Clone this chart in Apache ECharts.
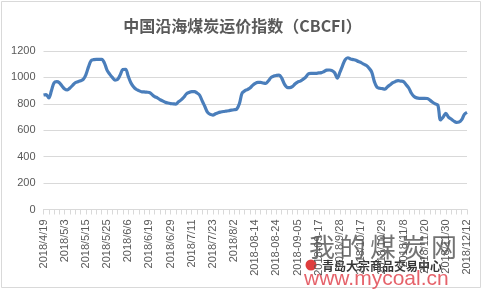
<!DOCTYPE html>
<html><head><meta charset="utf-8">
<script src="https://cdn.jsdelivr.net/npm/echarts@6/dist/echarts.min.js"></script>
<style>html,body{margin:0;padding:0;background:#fff}#c{width:485px;height:299px}</style>
</head><body><div id="c"></div>
<script>
const titleText = '中国沿海煤炭运价指数（CBCFI）';
const tickLabels = ['2018/4/19','2018/5/3','2018/5/15','2018/5/25','2018/6/6','2018/6/19','2018/6/29','2018/7/11','2018/7/23','2018/8/2','2018-08-14','2018-08-24','2018-09-05','2018-09-17','2018/9/28','2018/10/17','2018/10/29','2018/11/8','2018/11/20','2018/11/30','2018/12/12'];
const pointsPerLabel = 8;
const values = [
 867,870,845,900,960,968,960,935,912,905,
 920,940,960,968,975,985,1020,1080,1127,1135,
 1137,1137,1137,1110,1055,1025,1000,980,985,1020,
 1060,1062,1010,960,930,910,900,892,890,888,
 886,870,855,845,832,822,812,806,802,800,
 798,815,830,850,875,886,892,892,882,865,
 820,778,735,720,715,725,733,738,742,745,
 748,752,755,760,800,880,898,908,920,940,
 955,962,962,958,955,975,1000,1010,1015,1018,
 995,950,925,922,930,950,965,972,985,1000,
 1026,1030,1030,1031,1034,1036,1045,1055,1056,1052,
 1035,995,1040,1090,1135,1149,1140,1135,1130,1120,
 1112,1100,1090,1070,1040,968,925,918,915,912,
 930,945,960,970,975,972,968,945,920,880,
 855,845,842,842,842,840,828,812,800,790,
 678,700,728,700,685,670,660,662,680,720,
 735
];
const yTicks = [0,200,400,600,800,1000,1200];

const categories = values.map((v,i)=> (i % pointsPerLabel === 0 && tickLabels[i/pointsPerLabel]) ? tickLabels[i/pointsPerLabel] : ('p'+i));

const chart = echarts.init(document.getElementById('c'), null, {renderer:'canvas'});
const wmChars = ['我','的','煤','炭','网'];
chart.setOption({
  animation:false,
  backgroundColor:'#fff',
  title:{text:titleText,left:'center',top:13,textStyle:{fontFamily:'Noto Sans CJK SC',fontSize:16,fontWeight:'bold',color:'#595959'}},
  grid:{left:43.5,right:18,top:51,bottom:89.5,containLabel:false},
  xAxis:{type:'category',data:categories,boundaryGap:false,
    axisLine:{lineStyle:{color:'#d9d9d9'}},
    axisTick:{show:true,interval:1,length:5,lineStyle:{color:'#d9d9d9'}},
    axisLabel:{interval:pointsPerLabel-1,rotate:90,margin:10,fontSize:11,color:'#595959',fontFamily:'Liberation Sans',
      formatter:(v)=> v.charAt(0)==='p' ? '' : v}
  },
  yAxis:{type:'value',min:yTicks[0],max:yTicks[yTicks.length-1],interval:200,
    axisLine:{show:false},axisTick:{show:false},
    axisLabel:{fontSize:11,color:'#595959',margin:8,fontFamily:'Liberation Sans',formatter:(v)=>String(v)},
    splitLine:{lineStyle:{color:'#d9d9d9',width:1}}
  },
  series:[{type:'line',data:values,smooth:0.35,symbol:'none',
    lineStyle:{color:'#4a7ebb',width:3.2},itemStyle:{color:'#4a7ebb'}}],
  graphic:[
    {type:'rect',shape:{x:1.5,y:1.5,width:479,height:286},style:{fill:'none',stroke:'#d9d9d9',lineWidth:1},z:-1},
    {type:'group',z:100,children:[
      ...wmChars.map((ch,i)=>({type:'text',x:309+i*30.5,y:234,style:{text:ch,fontFamily:'Noto Sans CJK SC',fontSize:26,fill:'rgba(90,90,90,0.85)'}})),
      {type:'circle',shape:{cx:311,cy:265,r:5.5},style:{fill:'rgba(220,40,40,0.9)'}},
      {type:'text',x:322,y:260,style:{text:'青岛大宗商品交易中心',fontFamily:'Noto Sans CJK SC',fontSize:12,fontWeight:'bold',fill:'rgba(30,30,30,0.9)'}},
      {type:'text',x:304,y:269,style:{text:'www.mycoal.cn',fontFamily:'Liberation Sans',fontSize:21,fill:'rgba(225,70,80,0.85)'}}
    ]}
  ]
});
</script></body></html>
